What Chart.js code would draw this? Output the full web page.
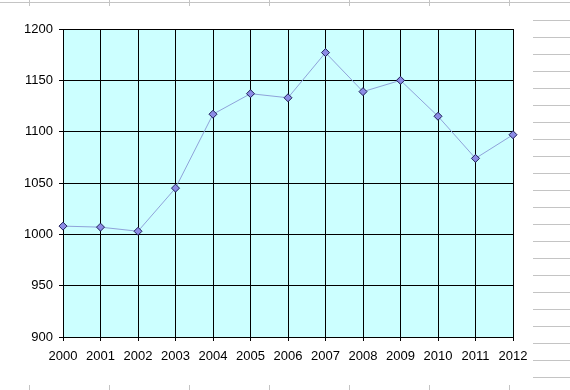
<!DOCTYPE html>
<html>
<head>
<meta charset="utf-8">
<script src="https://cdn.jsdelivr.net/npm/chart.js@4"></script>
<style>
  html, body { margin: 0; padding: 0; background: #fff; }
  #wrap { width: 570px; height: 390px; position: relative; }
</style>
</head>
<body>
<div id="wrap"><canvas id="chart" width="570" height="390"></canvas></div>
<script>
const years = ['2000', '2001', '2002', '2003', '2004', '2005', '2006', '2007', '2008', '2009', '2010', '2011', '2012'];
const values = [1008, 1007, 1003, 1045, 1117, 1137, 1133, 1177, 1139, 1150, 1115, 1074, 1097];
const yMin = 900;
const yMax = 1200;
const yStep = 50;

// spreadsheet cell lines behind the chart, plus the cyan plot area
const sheetBackdrop = {
  id: 'sheetBackdrop',
  beforeDraw(chart) {
    const ctx = chart.ctx;
    ctx.save();
    ctx.strokeStyle = '#c4c4c4';
    ctx.lineWidth = 1;
    ctx.beginPath();
    ctx.moveTo(0, 2.5);
    ctx.lineTo(570, 2.5);
    for (let x = 29.5; x < 570; x += 80) {
      ctx.moveTo(x, 0);
      ctx.lineTo(x, 6);
      ctx.moveTo(x, 385);
      ctx.lineTo(x, 390);
    }
    for (let y = 19.5; y < 390; y += 17) {
      ctx.moveTo(533, Math.round(y) + 0.5);
      ctx.lineTo(570, Math.round(y) + 0.5);
    }
    ctx.stroke();
    const a = chart.chartArea;
    ctx.fillStyle = '#ccffff';
    ctx.fillRect(a.left, a.top, a.right - a.left, a.bottom - a.top);
    ctx.restore();
  }
};

const tickFont = { family: 'Liberation Sans', size: 13 };

new Chart(document.getElementById('chart'), {
  type: 'line',
  data: {
    labels: years,
    datasets: [{
      data: values,
      borderColor: '#8fa3da',
      borderWidth: 1,
      pointStyle: 'rectRot',
      pointRadius: 4,
      pointBackgroundColor: '#8c8ce6',
      pointBorderColor: '#1e1e5a',
      pointBorderWidth: 1,
      tension: 0,
    }],
  },
  options: {
    responsive: false,
    animation: false,
    layout: { padding: { left: 0, top: 29, right: 57, bottom: 0 } },
    plugins: { legend: { display: false }, tooltip: { enabled: false } },
    scales: {
      x: {
        offset: false,
        grid: { color: '#000', lineWidth: 1, tickLength: 4 },
        border: { color: '#000' },
        ticks: { color: '#000', font: tickFont, padding: 8, maxRotation: 0, autoSkip: false },
        afterFit(scale) { scale.height = 53; },
      },
      y: {
        min: yMin,
        max: yMax,
        grid: { color: '#000', lineWidth: 1, tickLength: 4 },
        border: { color: '#000' },
        ticks: { stepSize: yStep, color: '#000', font: tickFont, padding: 6, callback: v => String(v) },
        afterFit(scale) { scale.width = 63; },
      },
    },
  },
  plugins: [sheetBackdrop],
});
</script>
</body>
</html>
